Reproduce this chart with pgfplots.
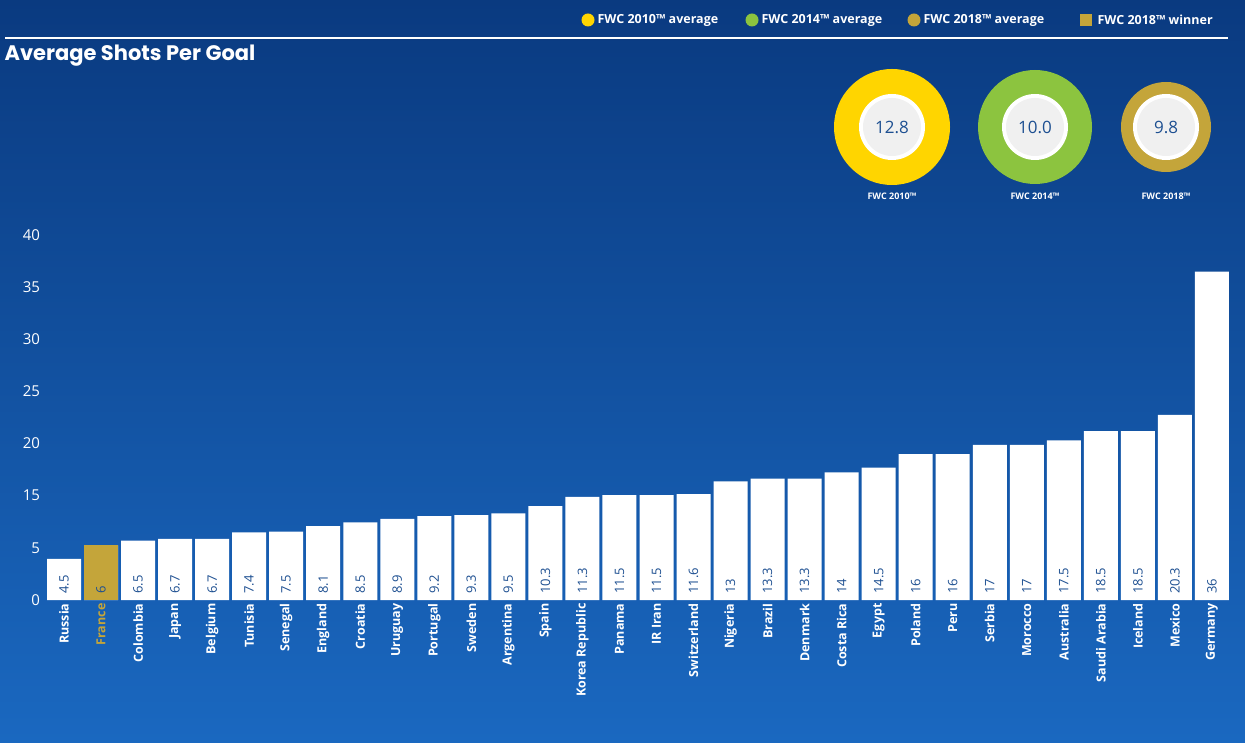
\documentclass[border=0pt]{standalone}
\usepackage{pgfplots}
\pgfplotsset{compat=1.18}
\usepackage{pgfplotstable}
\usepackage{fontspec}
\setmainfont{Open Sans}
\newfontfamily\titlefont{Poppins}
\definecolor{bgtop}{HTML}{0A3A80}
\definecolor{bgbot}{HTML}{1A68C0}
\definecolor{cyel}{HTML}{FFD500}
\definecolor{cgrn}{HTML}{8CC43F}
\definecolor{cgold}{HTML}{C4A53A}
\definecolor{vblue}{HTML}{1D4F91}
\pgfplotstableread{
x y lab
0 4.5 4.5
1 6 6
2 6.5 6.5
3 6.7 6.7
4 6.7 6.7
5 7.4 7.4
6 7.5 7.5
7 8.1 8.1
8 8.5 8.5
9 8.9 8.9
10 9.2 9.2
11 9.3 9.3
12 9.5 9.5
13 10.3 10.3
14 11.3 11.3
15 11.5 11.5
16 11.5 11.5
17 11.6 11.6
18 13 13
19 13.3 13.3
20 13.3 13.3
21 14 14
22 14.5 14.5
23 16 16
24 16 16
25 17 17
26 17 17
27 17.5 17.5
28 18.5 18.5
29 18.5 18.5
30 20.3 20.3
31 36 36
}\shots
\begin{document}
\begin{tikzpicture}[x=1pt,y=1pt]
\shade[top color=bgtop,bottom color=bgbot] (0,0) rectangle (1245,742);
% header
\draw[white,line width=1.2pt] (5,704) -- (1228,704);
\node[anchor=west,text=white,font=\titlefont\bfseries\fontsize{21}{23}\selectfont] at (1,686) {Average Shots Per Goal};
\begin{scope}[font=\bfseries\fontsize{12.5}{14}\selectfont,text=white]
\fill[cyel] (588,722) circle (6.5);
\node[anchor=west] at (594,722) {FWC 2010™ average};
\fill[cgrn] (752,722) circle (6.5);
\node[anchor=west] at (758,722) {FWC 2014™ average};
\fill[cgold] (914,722) circle (6.5);
\node[anchor=west] at (920,722) {FWC 2018™ average};
\fill[cgold] (1080,716) rectangle (1092,728);
\node[anchor=west] at (1094,722) {FWC 2018™ winner};
\end{scope}
% donuts
\foreach \cx/\r/\c/\v/\t in {892/58/cyel/12.8/2010, 1035/57/cgrn/10.0/2014, 1166/45/cgold/9.8/2018}{
  \fill[\c] (\cx,615) circle (\r);
  \fill[white] (\cx,615) circle (33);
  \fill[black!6] (\cx,615) circle (29);
  \node[text=vblue,font=\fontsize{17}{19}\selectfont] at (\cx,615) {\v};
  \node[text=white,font=\bfseries\fontsize{9}{10}\selectfont] at (\cx,546) {FWC \t™};
}
\begin{axis}[at={(45.5pt,142pt)},anchor=south west,scale only axis,
  width=1185pt,height=365pt,xmin=-0.5,xmax=31.5,ymin=0,ymax=40,
  axis line style={draw=none},tick style={draw=none},
  ytick={0,5.714,11.429,17.143,22.857,28.571,34.286,40},
  yticklabels={0,5,15,20,25,30,35,40},
  yticklabel style={text=white,font=\fontsize{15}{17}\selectfont,xshift=-2pt},
  xtick={0,...,31},
  xticklabels={Russia,\textcolor{cgold}{France},Colombia,Japan,Belgium,Tunisia,Senegal,England,Croatia,Uruguay,Portugal,Sweden,Argentina,Spain,Korea Republic,Panama,IR Iran,Switzerland,Nigeria,Brazil,Denmark,Costa Rica,Egypt,Poland,Peru,Serbia,Morocco,Australia,Saudi Arabia,Iceland,Mexico,Germany},
  xticklabel style={text=white,rotate=90,anchor=east,font=\bfseries\fontsize{12.5}{14}\selectfont},
  clip=false]
\addplot[ybar,bar width=34pt,fill=white,draw=none] table[x=x,y=y]{\shots};
\addplot[ybar,bar width=34pt,fill=cgold,draw=none] coordinates {(1,6)};
\addplot[only marks,mark=none,nodes near coords,point meta=explicit symbolic,
  nodes near coords style={rotate=90,anchor=west,text=vblue,font=\fontsize{13}{15}\selectfont,xshift=3pt}]
  table[x=x,y expr=0,meta=lab]{\shots};
\end{axis}
\end{tikzpicture}
\end{document}
